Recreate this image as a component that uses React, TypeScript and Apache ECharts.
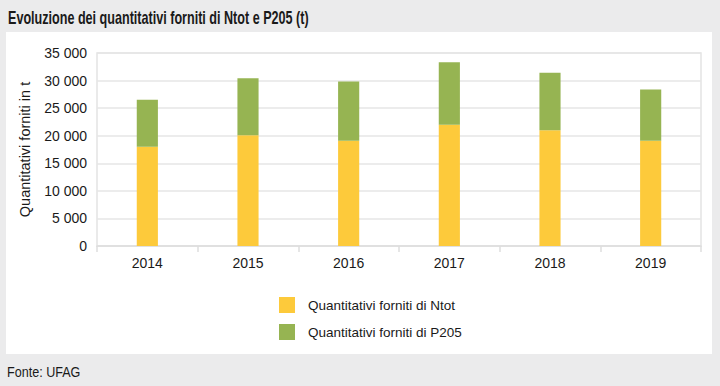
import React, { useEffect, useRef } from "react";
import * as echarts from "echarts";

const years = ["2014", "2015", "2016", "2017", "2018", "2019"];
const ntot = [18000, 20100, 19100, 22000, 21000, 19100];
const p205 = [8500, 10300, 10750, 11300, 10400, 9300];
const seriesNames = ["Quantitativi forniti di Ntot", "Quantitativi forniti di P205"];
const colors = ["#fdca3b", "#96b452"];

const FONT = "'Liberation Sans', Arial, sans-serif";

export default function App() {
  const ref = useRef<HTMLDivElement>(null);
  useEffect(() => {
    if (!ref.current) return;
    const chart = echarts.init(ref.current, null, { renderer: "svg" });
    chart.setOption({
      animation: false,
      backgroundColor: "#ebebec",
      textStyle: { fontFamily: FONT },
      graphic: [
        { type: "rect", shape: { x: 6, y: 32, width: 706, height: 322 }, style: { fill: "#ffffff" }, z: -10 },
        {
          type: "text", x: 8, y: 18, scaleX: 0.7,
          style: { text: "Evoluzione dei quantitativi forniti di Ntot e P205 (t)", font: `bold 18px ${FONT}`, fill: "#1a1a1a", verticalAlign: "middle" },
        },
        {
          type: "text", x: 7, y: 372, scaleX: 0.9,
          style: { text: "Fonte: UFAG", font: `14px ${FONT}`, fill: "#1a1a1a", verticalAlign: "middle" },
        },
      ],
      legend: {
        orient: "vertical",
        left: 274,
        top: 292,
        itemWidth: 16,
        itemHeight: 16,
        itemGap: 11,
        icon: "rect",
        data: seriesNames,
        textStyle: { fontSize: 13.5, color: "#1a1a1a", fontFamily: FONT, padding: [0, 0, 0, 8] },
      },
      grid: { left: 97, right: 19, top: 53, bottom: 140, show: true, borderColor: "#e3e3e3", borderWidth: 1.5 },
      xAxis: {
        type: "category",
        data: years,
        axisLine: { lineStyle: { color: "#dedede", width: 1.5 } },
        axisTick: { show: true, length: 6, lineStyle: { color: "#dedede", width: 1.5 } },
        axisLabel: { fontSize: 14, color: "#1a1a1a", margin: 10 },
      },
      yAxis: {
        type: "value",
        min: 0,
        max: 35000,
        interval: 5000,
        name: "Quantitativi forniti in t",
        nameLocation: "middle",
        nameGap: 65,
        nameTextStyle: { fontSize: 14.5, color: "#1a1a1a" },
        axisLabel: {
          fontSize: 14,
          color: "#1a1a1a",
          margin: 10,
          formatter: (v: number) => String(v).replace(/\B(?=(\d{3})+(?!\d))/g, " "),
        },
        splitLine: { lineStyle: { color: "#e6e6e6", width: 1.5 } },
      },
      series: [
        { name: seriesNames[0], type: "bar", stack: "t", data: ntot, barWidth: "21%", itemStyle: { color: colors[0] } },
        { name: seriesNames[1], type: "bar", stack: "t", data: p205, barWidth: "21%", itemStyle: { color: colors[1] } },
      ],
    });
    return () => chart.dispose();
  }, []);
  return <div ref={ref} style={{ position: "fixed", left: 0, top: 0, width: 720, height: 386 }} />;
}
